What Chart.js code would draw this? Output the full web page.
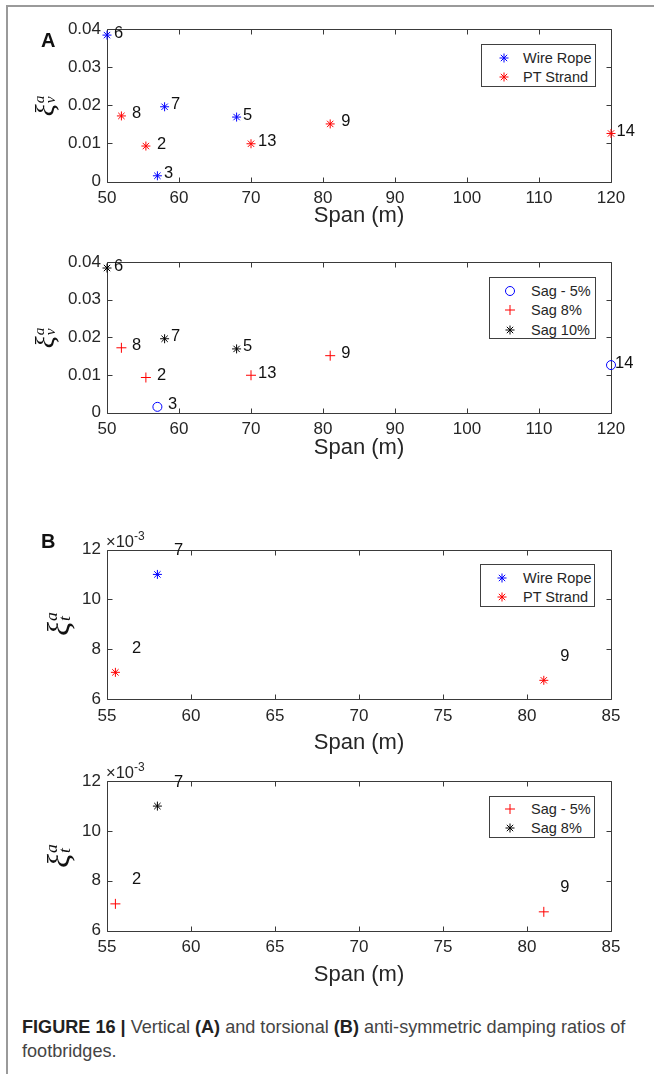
<!DOCTYPE html>
<html>
<head>
<meta charset="utf-8">
<title>Figure 16</title>
<script src="https://cdn.jsdelivr.net/npm/chart.js@4.4.1/dist/chart.umd.min.js"></script>
<style>
  html, body { margin: 0; padding: 0; background: #fff; }
  body { position: relative; width: 654px; height: 1074px; overflow: hidden;
         font-family: "Liberation Sans", Arial, sans-serif; color: #262626; }
  .plot { position: absolute; left: 0; width: 654px; }
  .frame-top { position: absolute; left: 6px; top: 5px; width: 648px; height: 2px; background: #9a9a9a; }
  .frame-left { position: absolute; left: 6px; top: 5px; width: 2px; height: 1069px; background: #9a9a9a; }
  .panel { position: absolute; font-weight: bold; font-size: 20px; line-height: 20px; color: #111; }
  .ylab { position: absolute; transform: translate(-50%, -50%) rotate(-90deg);
          font-family: "Liberation Serif", "DejaVu Serif", serif; font-style: italic;
          white-space: nowrap; color: #111; line-height: 1; }
  .ylab .scr { display: inline-flex; flex-direction: column; font-size: 0.55em;
               line-height: 0.75; vertical-align: 0.67em; margin-left: 1px; }
  .legend { position: absolute; border: 1px solid #404040; background: #fff; box-sizing: border-box; }
  .legend .row { position: absolute; left: 0; right: 0; height: 18px; line-height: 18px; font-size: 14.5px; color: #262626; }
  .legend canvas { position: absolute; top: 1px; }
  .legend span { position: absolute; top: 0; }
  .exp { position: absolute; font-size: 16.5px; line-height: 18px; color: #262626; }
  .exp sup { font-size: 12px; vertical-align: 7px; line-height: 0; }
  .caption { position: absolute; left: 22px; top: 1015px; width: 628px; font-size: 18.1px; line-height: 24px; color: #444; }
  .caption b { color: #222; }
</style>
</head>
<body>
<div class="frame-top"></div>
<div class="frame-left"></div>

<div class="plot" id="wrapA1"><canvas id="chartA1"></canvas></div>
<div class="plot" id="wrapA2"><canvas id="chartA2"></canvas></div>
<div class="plot" id="wrapB1"><canvas id="chartB1"></canvas></div>
<div class="plot" id="wrapB2"><canvas id="chartB2"></canvas></div>

<div class="panel" style="left:41px;top:30px">A</div>
<div class="panel" style="left:41px;top:531px">B</div>

<div class="ylab" style="left:45px;top:106px;font-size:28px">ξ<span class="scr"><span>a</span><span>v</span></span></div>
<div class="ylab" style="left:45px;top:338px;font-size:28px">ξ<span class="scr"><span>a</span><span>v</span></span></div>
<div class="ylab" style="left:58px;top:624px;font-size:32px">ξ<span class="scr"><span>a</span><span>t</span></span></div>
<div class="ylab" style="left:58px;top:856px;font-size:32px">ξ<span class="scr"><span>a</span><span>t</span></span></div>

<div class="exp" style="left:106px;top:532px">×10<sup>-3</sup></div>
<div class="exp" style="left:106px;top:763px">×10<sup>-3</sup></div>

<div class="legend" id="legA1"></div>
<div class="legend" id="legA2"></div>
<div class="legend" id="legB1"></div>
<div class="legend" id="legB2"></div>

<div class="caption"><b>FIGURE 16 |</b> Vertical <b>(A)</b> and torsional <b>(B)</b> anti-symmetric damping ratios of footbridges.</div>

<script>
// Panel A: vertical anti-symmetric damping ratio against span
const bridgeA = ["6", "8", "7", "2", "3", "5", "13", "9", "14"];
const spanA = [50, 52, 58, 55.4, 57, 68, 70, 81, 120];
const dampA = [0.0384, 0.0172, 0.0196, 0.0093, 0.0015, 0.0169, 0.0099, 0.0151, 0.0126];
const cableA = ["Wire Rope", "PT Strand", "Wire Rope", "PT Strand", "Wire Rope", "Wire Rope", "PT Strand", "PT Strand", "PT Strand"];
const sagA = ["Sag 10%", "Sag 8%", "Sag 10%", "Sag 8%", "Sag - 5%", "Sag 10%", "Sag 8%", "Sag 8%", "Sag - 5%"];

// Panel B: torsional anti-symmetric damping ratio against span
const bridgeB = ["7", "2", "9"];
const spanB = [58, 55.5, 81];
const dampB = [0.0110, 0.00707, 0.00675];
const cableB = ["Wire Rope", "PT Strand", "PT Strand"];
const sagB = ["Sag 8%", "Sag - 5%", "Sag - 5%"];

// legend order
const cableGroups = ["Wire Rope", "PT Strand"];
const sagGroupsA = ["Sag - 5%", "Sag 8%", "Sag 10%"];
const sagGroupsB = ["Sag - 5%", "Sag 8%"];

// tick labels
const xTicksA = [50, 60, 70, 80, 90, 100, 110, 120];
const yTicksA = [0, 0.01, 0.02, 0.03, 0.04];
const xTicksB = [55, 60, 65, 70, 75, 80, 85];
const yTicksB = [0.006, 0.008, 0.010, 0.012];

const BLUE = "#0000ff", RED = "#ff0000", BLACK = "#000000";
const AXIS_LINE = "#3a3a3a";
const FONT = "'Liberation Sans', Arial, sans-serif";
const TICK = 5;
const TICK_SIZE = 17;
const TITLE_SIZE = 22;

Chart.defaults.font.family = FONT;
Chart.defaults.color = "#262626";

const cableStyle = {
  "Wire Rope": { shape: "star", color: BLUE, r: 4.5 },
  "PT Strand": { shape: "star", color: RED, r: 4.5 }
};
const sagStyleA = {
  "Sag - 5%": { shape: "circle", color: BLUE, r: 4.5 },
  "Sag 8%": { shape: "cross", color: RED, r: 5 },
  "Sag 10%": { shape: "star", color: BLACK, r: 4.5 }
};
const sagStyleB = {
  "Sag - 5%": { shape: "cross", color: RED, r: 5 },
  "Sag 8%": { shape: "star", color: BLACK, r: 4.5 }
};

// gap between marker and its bridge number (px)
const labelGapA1 = [7, 10.5, 6.5, 11, 6.5, 6.5, 7, 11, 5.5];
const labelGapA2 = [7, 10.5, 6.5, 11, 10.5, 6.5, 7, 11, 4];
const labelGapB = [16.5, 16.5, 16.5];

function buildDatasets(groups, keys, spans, damps, names, gaps, styles) {
  return groups.map(g => {
    const st = styles[g];
    const pts = [];
    keys.forEach((k, i) => {
      if (k === g) pts.push({ x: spans[i], y: damps[i], name: names[i], gap: gaps[i] });
    });
    return {
      label: g,
      data: pts,
      pointStyle: st.shape,
      pointRadius: st.r,
      borderColor: st.color,
      backgroundColor: "rgba(0,0,0,0)",
      borderWidth: 1,
      clip: false
    };
  });
}

// MATLAB style box with inward ticks, plus the bridge numbers next to each marker
const matlabAxes = {
  id: "matlabAxes",
  beforeDatasetsDraw(chart) {
    const { ctx, chartArea: a, scales: { x, y } } = chart;
    const L = Math.round(a.left) + 0.5, R = Math.round(a.right) + 0.5;
    const T = Math.round(a.top) + 0.5, B = Math.round(a.bottom) + 0.5;
    ctx.save();
    ctx.strokeStyle = AXIS_LINE;
    ctx.lineWidth = 1;
    ctx.beginPath();
    ctx.rect(L, T, R - L, B - T);
    x.ticks.forEach(t => {
      const p = Math.round(x.getPixelForValue(t.value)) + 0.5;
      ctx.moveTo(p, B); ctx.lineTo(p, B - TICK);
      ctx.moveTo(p, T); ctx.lineTo(p, T + TICK);
    });
    y.ticks.forEach(t => {
      const p = Math.round(y.getPixelForValue(t.value)) + 0.5;
      ctx.moveTo(L, p); ctx.lineTo(L + TICK, p);
      ctx.moveTo(R, p); ctx.lineTo(R - TICK, p);
    });
    ctx.stroke();
    ctx.restore();
  },
  afterDatasetsDraw(chart, args, opts) {
    const { ctx } = chart;
    ctx.save();
    ctx.font = "16.5px " + FONT;
    ctx.fillStyle = "#111";
    ctx.textAlign = "left";
    ctx.textBaseline = "middle";
    chart.data.datasets.forEach((ds, d) => {
      chart.getDatasetMeta(d).data.forEach((pt, i) => {
        const item = ds.data[i];
        ctx.fillText(item.name, pt.x + item.gap, pt.y + opts.dy);
      });
    });
    ctx.restore();
  }
};

function makeChart(id, o) {
  const wrap = document.getElementById("wrap" + id);
  wrap.style.top = o.top + "px";
  wrap.style.height = o.height + "px";
  const bottomH = o.top + o.height - o.plot.b;
  const titleLh = TITLE_SIZE * 1.2;
  const last = arr => arr[arr.length - 1];

  return new Chart(document.getElementById("chart" + id), {
    type: "scatter",
    data: { datasets: o.datasets },
    options: {
      responsive: true,
      maintainAspectRatio: false,
      animation: false,
      events: [],
      layout: { padding: { left: 0, top: o.plot.t - o.top, right: 654 - o.plot.r, bottom: 0 } },
      plugins: {
        legend: { display: false },
        tooltip: { enabled: false },
        matlabAxes: { dy: o.labelDy }
      },
      scales: {
        x: {
          type: "linear",
          min: o.xTicks[0],
          max: last(o.xTicks),
          afterBuildTicks: s => { s.ticks = o.xTicks.map(v => ({ value: v })); },
          afterFit: s => { s.height = bottomH; },
          grid: { display: false, drawTicks: false },
          border: { display: false },
          ticks: { font: { size: TICK_SIZE }, padding: 7, maxRotation: 0, autoSkip: false, callback: v => String(v) },
          title: {
            display: true,
            text: "Span (m)",
            font: { size: TITLE_SIZE },
            color: "#262626",
            padding: { top: 0, bottom: o.top + o.height - o.titleY - titleLh / 2 }
          }
        },
        y: {
          type: "linear",
          min: o.yTicks[0],
          max: last(o.yTicks),
          afterBuildTicks: s => { s.ticks = o.yTicks.map(v => ({ value: v })); },
          afterFit: s => { s.width = o.plot.l; },
          grid: { display: false, drawTicks: false },
          border: { display: false },
          ticks: { font: { size: TICK_SIZE }, padding: 6, autoSkip: false, callback: o.yFormat }
        }
      }
    },
    plugins: [matlabAxes]
  });
}

function drawMarker(ctx, cx, cy, st) {
  ctx.strokeStyle = st.color;
  ctx.lineWidth = 1;
  ctx.beginPath();
  if (st.shape === "circle") {
    ctx.arc(cx, cy, st.r, 0, Math.PI * 2);
  } else {
    const angles = st.shape === "star" ? [0, Math.PI / 4, Math.PI / 2, 3 * Math.PI / 4] : [0, Math.PI / 2];
    angles.forEach(a => {
      ctx.moveTo(cx - st.r * Math.cos(a), cy - st.r * Math.sin(a));
      ctx.lineTo(cx + st.r * Math.cos(a), cy + st.r * Math.sin(a));
    });
  }
  ctx.stroke();
}

function buildLegend(id, box, names, styles) {
  const el = document.getElementById(id);
  Object.assign(el.style, { left: box.x + "px", top: box.y + "px", width: box.w + "px", height: box.h + "px" });
  names.forEach((name, k) => {
    const row = document.createElement("div");
    row.className = "row";
    row.style.top = (box.row0 + k * box.gap - 10) + "px";
    const c = document.createElement("canvas");
    c.width = 16; c.height = 16;
    c.style.left = (box.mark - 9) + "px";
    drawMarker(c.getContext("2d"), 8, 8, styles[name]);
    const t = document.createElement("span");
    t.textContent = name;
    t.style.left = (box.text - 1) + "px";
    row.append(c, t);
    el.appendChild(row);
  });
}

const fmtA = v => (v === 0 ? "0" : v.toFixed(2));
const fmtB = v => String(Math.round(v * 1000));

makeChart("A1", {
  top: 0, height: 240, plot: { l: 107, r: 611, t: 29, b: 181.5 }, titleY: 216,
  xTicks: xTicksA, yTicks: yTicksA, yFormat: fmtA, labelDy: -2,
  datasets: buildDatasets(cableGroups, cableA, spanA, dampA, bridgeA, labelGapA1, cableStyle)
});
makeChart("A2", {
  top: 240, height: 240, plot: { l: 107, r: 611, t: 262, b: 412.5 }, titleY: 448,
  xTicks: xTicksA, yTicks: yTicksA, yFormat: fmtA, labelDy: -2,
  datasets: buildDatasets(sagGroupsA, sagA, spanA, dampA, bridgeA, labelGapA2, sagStyleA)
});
makeChart("B1", {
  top: 500, height: 265, plot: { l: 107, r: 611, t: 549.5, b: 699 }, titleY: 743,
  xTicks: xTicksB, yTicks: yTicksB, yFormat: fmtB, labelDy: -24,
  datasets: buildDatasets(cableGroups, cableB, spanB, dampB, bridgeB, labelGapB, cableStyle)
});
makeChart("B2", {
  top: 765, height: 235, plot: { l: 107, r: 611, t: 780.5, b: 930.5 }, titleY: 975,
  xTicks: xTicksB, yTicks: yTicksB, yFormat: fmtB, labelDy: -24,
  datasets: buildDatasets(sagGroupsB, sagB, spanB, dampB, bridgeB, labelGapB, sagStyleB)
});

buildLegend("legA1", { x: 481, y: 44, w: 115, h: 43, row0: 14, gap: 19, mark: 23, text: 42 }, cableGroups, cableStyle);
buildLegend("legA2", { x: 489, y: 277, w: 107, h: 62, row0: 14, gap: 19.3, mark: 21, text: 42 }, sagGroupsA, sagStyleA);
buildLegend("legB1", { x: 480, y: 564, w: 115, h: 43, row0: 14, gap: 19, mark: 22, text: 43 }, cableGroups, cableStyle);
buildLegend("legB2", { x: 489, y: 796, w: 106, h: 42, row0: 13, gap: 19.3, mark: 21, text: 42 }, sagGroupsB, sagStyleB);
</script>
</body>
</html>
